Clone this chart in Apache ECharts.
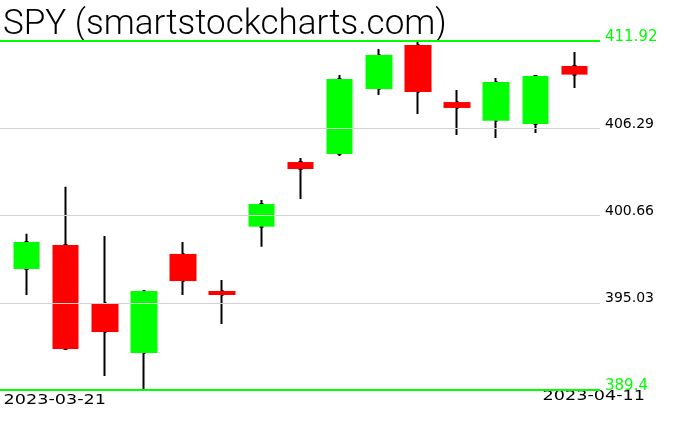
<!DOCTYPE html>
<html><head><meta charset="utf-8">
<script src="https://cdn.jsdelivr.net/npm/echarts@6/dist/echarts.min.js"></script>
<style>html,body{margin:0;padding:0;background:#fff}#c{width:676px;height:431px}</style>
</head><body><div id="c"></div>
<script>
const dates = ['2023-03-21','2023-03-22','2023-03-23','2023-03-24','2023-03-27','2023-03-28','2023-03-29','2023-03-30','2023-03-31','2023-04-03','2023-04-04','2023-04-05','2023-04-06','2023-04-10','2023-04-11'];
const openP  = [397.21, 398.76, 395.01, 391.79, 398.18, 395.79, 399.94, 404.11, 404.63, 408.82, 411.66, 407.98, 406.78, 406.56, 410.31];
const closeP = [398.95, 392.05, 393.14, 395.79, 396.43, 395.53, 401.40, 403.66, 409.47, 411.02, 408.63, 407.60, 409.27, 409.66, 409.75];
const lowP   = [395.53, 391.98, 390.30, 389.40, 395.53, 393.66, 398.65, 401.72, 404.50, 408.44, 407.21, 405.85, 405.66, 405.98, 408.89];
const highP  = [399.49, 402.52, 399.34, 395.85, 398.95, 396.50, 401.66, 404.37, 409.73, 411.40, 411.92, 408.76, 409.53, 409.73, 411.21];
const tickValues = [389.4, 395.03, 400.66, 406.29, 411.92];
const tickLabels = ['389.4', '395.03', '400.66', '406.29', '411.92'];
const titleText = 'SPY (smartstockcharts.com)';

const ohlc = dates.map((d, i) => [i, openP[i], closeP[i], lowP[i], highP[i]]);
const bodies = dates.map((d, i) => [i, openP[i], closeP[i], Math.min(openP[i], closeP[i]), Math.max(openP[i], closeP[i])]);
const last = tickValues.length - 1;
const lines = tickValues.map((v, i) => {
  const edge = (i === 0 || i === last);
  return {
    yAxis: v,
    lineStyle: { color: edge ? '#00ff00' : '#d3d3d3', width: edge ? 2 : 1, type: 'solid', opacity: 1 },
    label: { formatter: tickLabels[i], color: edge ? '#00ff00' : '#000000', fontSize: edge ? 15 : 14 }
  };
});

const chart = echarts.init(document.getElementById('c'));
chart.setOption({
  animation: false,
  backgroundColor: '#ffffff',
  grid: { left: 0, right: 76, top: 41, bottom: 41, show: false },
  xAxis: { type: 'value', min: -0.677, max: 14.652, show: false },
  yAxis: { type: 'value', min: 389.4, max: 411.92, show: false },
  graphic: [
    { type: 'text', x: 3, y: 25, z: 1, style: { text: titleText, fontSize: 35, fontWeight: 300, fontFamily: 'Roboto', fill: '#000', align: 'left', verticalAlign: 'middle' } },
    { type: 'text', x: 3.5, y: 400, scaleX: 1.26, style: { text: dates[0], fontSize: 14, fontFamily: 'DejaVu Sans', fill: '#000', align: 'left', verticalAlign: 'middle' } },
    { type: 'text', x: 645, y: 396, scaleX: 1.26, style: { text: dates[dates.length - 1], fontSize: 14, fontFamily: 'DejaVu Sans', fill: '#000', align: 'right', verticalAlign: 'middle' } }
  ],
  series: [
    {
      type: 'candlestick', data: ohlc, barWidth: 2, z: 2, clip: false,
      itemStyle: { color: '#000', color0: '#000', borderColor: '#000', borderColor0: '#000', borderWidth: 2 },
      silent: true
    },
    {
      type: 'candlestick', data: bodies, barWidth: 27, z: 3, clip: false,
      itemStyle: { color: '#00ff00', color0: '#ff0000', borderColor: '#00ff00', borderColor0: '#ff0000', borderWidth: 0 },
      silent: true,
      markLine: {
        silent: true, symbol: 'none', animation: false, z: 10, precision: 2,
        label: { show: true, position: 'end', distance: 5, fontFamily: 'DejaVu Sans', verticalAlign: 'bottom', lineHeight: 8 },
        emphasis: { disabled: true },
        data: lines
      }
    }
  ]
});
</script>
</body></html>
